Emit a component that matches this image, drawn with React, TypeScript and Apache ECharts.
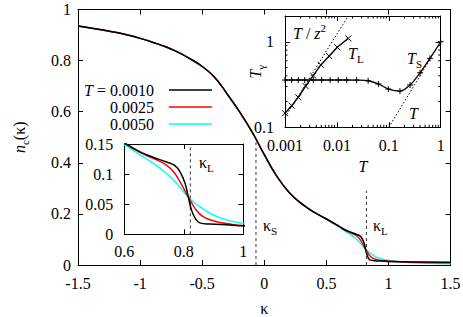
import { useEffect, useRef } from 'react';
import * as echarts from 'echarts';

const FONT = 'Liberation Serif';

// ---- main panel data: n_c(kappa) ----
const kappaShared = [-1.5, -1.4, -1.3, -1.2, -1.1, -1.0, -0.9, -0.8, -0.7, -0.6, -0.5, -0.4, -0.3, -0.2, -0.1, 0.0, 0.1, 0.2, 0.3, 0.4, 0.5];
const ncShared = [0.935, 0.928, 0.92, 0.911, 0.9, 0.887, 0.872, 0.855, 0.834, 0.808, 0.777, 0.735, 0.67, 0.6, 0.522, 0.432, 0.348, 0.284, 0.24, 0.207, 0.18];

const tempLabels = ['0.0010', '0.0025', '0.0050'];

const kappaTailT1 = [0.6, 0.653, 0.697, 0.742, 0.77, 0.787, 0.804, 0.815, 0.826, 0.838, 0.854, 0.888, 0.955, 1.0, 1.2, 1.5];
const ncTailT1 = [0.152, 0.137, 0.128, 0.12, 0.114, 0.104, 0.085, 0.0625, 0.04, 0.027, 0.019, 0.017, 0.0155, 0.014, 0.012, 0.011];

const kappaTailT2 = [0.6, 0.653, 0.697, 0.742, 0.77, 0.793, 0.815, 0.838, 0.866, 0.91, 0.955, 1.0, 1.2, 1.5];
const ncTailT2 = [0.152, 0.136, 0.126, 0.115, 0.101, 0.082, 0.0625, 0.043, 0.029, 0.021, 0.017, 0.0145, 0.011, 0.009];

const kappaTailT3 = [0.6, 0.653, 0.697, 0.742, 0.781, 0.815, 0.854, 0.899, 0.944, 1.0, 1.1, 1.3, 1.5];
const ncTailT3 = [0.149, 0.132, 0.118, 0.101, 0.082, 0.0615, 0.046, 0.032, 0.024, 0.018, 0.012, 0.007, 0.005];

const kappaS = -0.067;
const kappaSTop = 0.48;
const kappaL = 0.822;
const kappaLTop = 0.29;
const insetKappaLTop = 0.15;

// ---- upper inset data: T_gamma vs T (log-log) ----
const tempL = [0.001, 0.00135, 0.0018, 0.0025, 0.0035, 0.0049, 0.0071, 0.0102, 0.0166];
const tL = [0.146, 0.179, 0.224, 0.303, 0.401, 0.535, 0.681, 0.861, 1.096];

const tempS = [0.001, 0.00135, 0.0018, 0.0024, 0.0035, 0.0051, 0.0074, 0.0106, 0.0155, 0.024, 0.04, 0.063, 0.098, 0.164, 0.257, 0.4, 0.62, 1.0];
const tS = [0.357, 0.357, 0.357, 0.357, 0.357, 0.357, 0.357, 0.357, 0.357, 0.356, 0.35, 0.321, 0.28, 0.265, 0.312, 0.434, 0.64, 1.0];

const tOverZ2T = [0.001, 0.0165];
const tOverZ2 = [0.13, 2];
const tLineT = [0.1, 1];
const tLine = [0.1, 1];

const minorTicksT = [0.002, 0.003, 0.004, 0.005, 0.006, 0.007, 0.008, 0.009, 0.02, 0.03, 0.04, 0.05, 0.06, 0.07, 0.08, 0.09, 0.2, 0.3, 0.4, 0.5, 0.6, 0.7, 0.8, 0.9];
const minorTicksTg = [0.2, 0.3, 0.4, 0.5, 0.6, 0.7, 0.8, 0.9];

const colors = ['#000000', '#ff0000', '#00ffff'];

const zip = (a: number[], b: number[]) => a.map((v, i) => [v, b[i]]);

function axis(opts: any) {
  const { labelSize = 16, labelMargin = 8, showLabel = true, tickLen = 5, showMaxLabel, ...rest } = opts;
  return {
    splitLine: { show: false },
    nameMoveOverlap: false,
    axisLine: { show: true, onZero: false, lineStyle: { color: '#000', width: 1 } },
    axisTick: { show: true, inside: true, length: tickLen, lineStyle: { color: '#000', width: 1 } },
    axisLabel: {
      show: showLabel, color: '#000', fontFamily: FONT, fontSize: labelSize, margin: labelMargin,
      ...(showMaxLabel === false ? { showMaxLabel: false } : {}),
    },
    ...rest,
  };
}

const richEC = {
  i: { fontStyle: 'italic', fontFamily: FONT, fontSize: 16, color: '#000', verticalAlign: 'top' },
  r: { fontFamily: FONT, fontSize: 16, color: '#000', verticalAlign: 'top' },
  sub: { fontFamily: FONT, fontSize: 11, color: '#000', verticalAlign: 'top', padding: [8, 0, 0, 0] },
};

const richZR = {
  i: { fontStyle: 'italic', fontFamily: FONT, fontSize: 16, fill: '#000', verticalAlign: 'top' },
  r: { fontFamily: FONT, fontSize: 16, fill: '#000', verticalAlign: 'top' },
  sub: { fontFamily: FONT, fontSize: 11, fill: '#000', verticalAlign: 'top', padding: [8, 0, 0, 0] },
  ip: { fontStyle: 'italic', fontFamily: FONT, fontSize: 16, fill: '#000', verticalAlign: 'top', padding: [3, 0, 0, 0] },
  rp: { fontFamily: FONT, fontSize: 16, fill: '#000', verticalAlign: 'top', padding: [3, 0, 0, 0] },
  sup: { fontFamily: FONT, fontSize: 11, fill: '#000', verticalAlign: 'top' },
};

function label(x: number, y: number, text: string, align = 'left') {
  return {
    type: 'text',
    x,
    y,
    z: 100,
    silent: true,
    style: { text, rich: richZR, fill: '#000', fontFamily: FONT, fontSize: 16, align, verticalAlign: 'middle' },
  };
}

export default function App() {
  const ref = useRef<HTMLDivElement>(null);
  useEffect(() => {
    if (!ref.current) return;
    const chart = echarts.init(ref.current, null, { renderer: 'svg' });

    const names = tempLabels.map((t, i) => (i === 0 ? 'T = ' + t : t));
    const tails = [
      zip(kappaTailT1, ncTailT1),
      zip(kappaTailT2, ncTailT2),
      zip(kappaTailT3, ncTailT3),
    ];
    const shared = zip(kappaShared, ncShared);

    const mainSeries = names.map((name, i) => ({
      type: 'line',
      name,
      xAxisIndex: 0,
      yAxisIndex: 0,
      data: [...shared, ...tails[i]],
      smooth: 0.45,
      symbol: 'none',
      lineStyle: { color: colors[i], width: 1.5 },
      itemStyle: { color: colors[i] },
      z: 5 - i,
    }));

    const insetSeries = names.map((name, i) => ({
      type: 'line',
      name: name + ' (inset)',
      xAxisIndex: 2,
      yAxisIndex: 2,
      data: tails[i],
      smooth: 0.45,
      symbol: 'none',
      lineStyle: { color: colors[i], width: 1.5 },
      itemStyle: { color: colors[i] },
      z: 15 - i,
    }));

    const dashed = (xi: number, yi: number, data: number[][]) => ({
      type: 'line',
      xAxisIndex: xi,
      yAxisIndex: yi,
      data,
      symbol: 'none',
      silent: true,
      lineStyle: { color: '#333', width: 1, type: [3, 3] },
      z: 12,
    });

    const gridBase = { containLabel: false, outerBoundsMode: 'none' };

    const option: any = {
      animation: false,
      backgroundColor: '#fff',
      textStyle: { fontFamily: FONT },
      grid: [
        { ...gridBase, left: 78, top: 9.5, width: 372.6, height: 255.5, show: false },
        { ...gridBase, left: 124.3, top: 144, width: 119, height: 90.3, show: true, backgroundColor: '#fff', borderWidth: 0, z: 8 },
        { ...gridBase, left: 285, top: 16, width: 155.7, height: 111.3, show: true, backgroundColor: '#fff', borderWidth: 0, z: 8 },
      ],
      xAxis: [
        axis({ type: 'value', gridIndex: 0, position: 'bottom', min: -1.5, max: 1.5, interval: 0.5, labelMargin: 10,
          name: 'κ', nameLocation: 'middle', nameGap: 35, nameTextStyle: { fontFamily: FONT, fontSize: 16, color: '#000' } }),
        axis({ type: 'value', gridIndex: 0, position: 'top', min: -1.5, max: 1.5, interval: 0.5, showLabel: false }),
        axis({ type: 'value', gridIndex: 1, position: 'bottom', min: 0.6, max: 1, interval: 0.2, labelMargin: 9, z: 10 }),
        axis({ type: 'value', gridIndex: 1, position: 'top', min: 0.6, max: 1, interval: 0.2, showLabel: false, z: 10 }),
        axis({ type: 'log', logBase: 10, gridIndex: 2, position: 'bottom', min: 0.001, max: 1, labelMargin: 10, z: 10,
          name: 'T', nameLocation: 'middle', nameGap: 31,
          nameTextStyle: { fontFamily: FONT, fontSize: 16, fontStyle: 'italic', color: '#000' } }),
        axis({ type: 'log', logBase: 10, gridIndex: 2, position: 'top', min: 0.001, max: 1, showLabel: false, z: 10 }),
      ],
      yAxis: [
        axis({ type: 'value', gridIndex: 0, position: 'left', min: 0, max: 1, interval: 0.2, labelMargin: 7,
          name: '{i|n}{sub|c}{r|(κ)}', nameLocation: 'middle', nameGap: 48, nameTextStyle: { rich: richEC } }),
        axis({ type: 'value', gridIndex: 0, position: 'right', min: 0, max: 1, interval: 0.2, showLabel: false }),
        axis({ type: 'value', gridIndex: 1, position: 'left', min: 0, max: 0.15, interval: 0.05, labelMargin: 11, z: 10 }),
        axis({ type: 'value', gridIndex: 1, position: 'right', min: 0, max: 0.15, interval: 0.05, showLabel: false, z: 10 }),
        axis({ type: 'log', logBase: 10, gridIndex: 2, position: 'left', min: 0.1, max: 2, labelMargin: 11, z: 10,
          showMaxLabel: false,
          name: '{i|T}{sub|γ}', nameLocation: 'middle', nameGap: 19, nameTextStyle: { rich: richEC } }),
        axis({ type: 'log', logBase: 10, gridIndex: 2, position: 'right', min: 0.1, max: 2, showLabel: false, z: 10 }),
      ],
      legend: {
        data: names,
        orient: 'vertical',
        align: 'right',
        left: 84,
        top: 81.5,
        padding: 0,
        icon: 'rect',
        itemWidth: 43,
        itemHeight: 1.5,
        itemGap: 0,
        selectedMode: false,
        textStyle: {
          fontFamily: FONT, fontSize: 16, color: '#000', lineHeight: 17,
          rich: {
            i: { fontFamily: FONT, fontSize: 16, fontStyle: 'italic', color: '#000', lineHeight: 17 },
            r: { fontFamily: FONT, fontSize: 16, color: '#000', lineHeight: 17 },
            g: { width: 10, lineHeight: 17 },
          },
        },
        formatter: (n: string) => (n.startsWith('T') ? '{i|T}{r|' + n.slice(1) + '}{g| }' : '{r|' + n + '}{g| }'),
      },
      series: [
        ...mainSeries,
        dashed(0, 0, [[kappaS, 0], [kappaS, kappaSTop]]),
        dashed(0, 0, [[kappaL, 0], [kappaL, kappaLTop]]),
        ...insetSeries,
        dashed(2, 2, [[kappaL, 0], [kappaL, insetKappaLTop]]),
        {
          type: 'line', xAxisIndex: 4, yAxisIndex: 4, data: zip(tOverZ2T, tOverZ2), symbol: 'none', silent: true,
          lineStyle: { color: '#000', width: 1, type: [1.5, 2] }, z: 12,
        },
        {
          type: 'line', xAxisIndex: 4, yAxisIndex: 4, data: zip(tLineT, tLine), symbol: 'none', silent: true,
          lineStyle: { color: '#000', width: 1, type: [1.5, 2] }, z: 12,
        },
        {
          type: 'line', xAxisIndex: 4, yAxisIndex: 4, data: zip(tempS, tS), smooth: 0.3,
          symbol: 'path://M0,-1L0,1M-1,0L1,0', symbolSize: 6, showAllSymbol: true,
          lineStyle: { color: '#000', width: 1.3 },
          itemStyle: { color: 'none', borderColor: '#000', borderWidth: 1 }, z: 13,
        },
        {
          type: 'line', xAxisIndex: 4, yAxisIndex: 4, data: zip(tempL, tL),
          symbol: 'path://M-1,-1L1,1M-1,1L1,-1', symbolSize: 6, showAllSymbol: true,
          lineStyle: { color: '#000', width: 1.3 },
          itemStyle: { color: 'none', borderColor: '#000', borderWidth: 1 }, z: 13,
        },
        {
          type: 'custom', xAxisIndex: 4, yAxisIndex: 4, silent: true, z: 13,
          data: [...minorTicksT.map((v) => [v, 0.1, 0]), ...minorTicksTg.map((v) => [0.001, v, 1])],
          renderItem: (_p: any, api: any) => {
            const kind = api.value(2);
            const len = 2.5;
            const st = { stroke: '#000', lineWidth: 1 };
            if (kind === 0) {
              const v = api.value(0);
              const b = api.coord([v, 0.1]);
              const t = api.coord([v, 2]);
              return {
                type: 'group',
                children: [
                  { type: 'line', shape: { x1: b[0], y1: b[1], x2: b[0], y2: b[1] - len }, style: st },
                  { type: 'line', shape: { x1: t[0], y1: t[1], x2: t[0], y2: t[1] + len }, style: st },
                ],
              };
            }
            const v = api.value(1);
            const l = api.coord([0.001, v]);
            const r = api.coord([1, v]);
            return {
              type: 'group',
              children: [
                { type: 'line', shape: { x1: l[0], y1: l[1], x2: l[0] + len, y2: l[1] }, style: st },
                { type: 'line', shape: { x1: r[0], y1: r[1], x2: r[0] - len, y2: r[1] }, style: st },
              ],
            };
          },
        },
      ],
      graphic: [
        label(293, 31.5, '{ip|T}{rp| / }{ip|z}{sup|2}'),
        label(348, 55, '{i|T}{sub|L}'),
        label(407, 60, '{i|T}{sub|S}'),
        label(413.5, 113, '{i|T}', 'center'),
        label(263, 227, '{r|κ}{sub|S}'),
        label(373, 227, '{r|κ}{sub|L}'),
        label(199, 164, '{r|κ}{sub|L}'),
      ],
    };

    chart.setOption(option);
    return () => chart.dispose();
  }, []);

  return <div ref={ref} style={{ position: 'fixed', left: 0, top: 0, width: 463, height: 317 }} />;
}
